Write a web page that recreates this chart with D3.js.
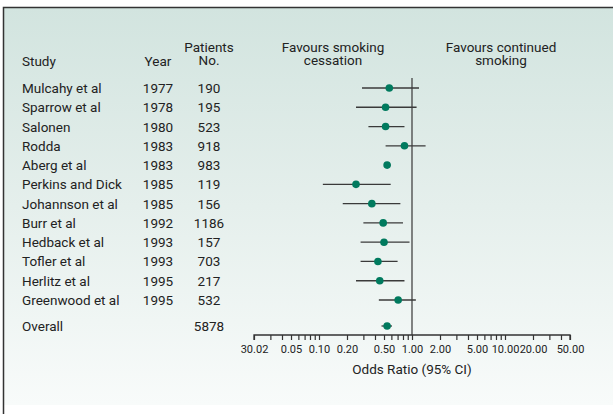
<!DOCTYPE html>
<html>
<head>
<meta charset="utf-8">
<script src="https://cdn.jsdelivr.net/npm/d3@7"></script>
<style>
  body { margin: 0; background: #fff; }
  svg { display: block; font-family: Roboto, "Noto Sans", sans-serif; fill: #222; }
</style>
</head>
<body>
<div id="chart"></div>
<script>
const studies = ["Mulcahy et al", "Sparrow et al", "Salonen", "Rodda", "Aberg et al",
  "Perkins and Dick", "Johannson et al", "Burr et al", "Hedback et al", "Tofler et al",
  "Herlitz et al", "Greenwood et al"];
const years = [1977, 1978, 1980, 1983, 1983, 1985, 1985, 1992, 1993, 1993, 1995, 1995];
const patients = [190, 195, 523, 918, 983, 119, 156, 1186, 157, 703, 217, 532];
const oddsRatio = [0.57, 0.52, 0.52, 0.83, 0.54, 0.25, 0.37, 0.49, 0.50, 0.43, 0.45, 0.71];
const ciLow  = [0.29, 0.25, 0.34, 0.52, 0.50, 0.11, 0.18, 0.30, 0.28, 0.28, 0.25, 0.44];
const ciHigh = [1.19, 1.12, 0.83, 1.40, 0.59, 0.59, 0.75, 0.80, 0.94, 0.70, 0.83, 1.10];
const overall = {label: "Overall", patients: 5878, or: 0.54, lo: 0.47, hi: 0.61};
const tickValues = [0.02, 0.05, 0.1, 0.2, 0.5, 1, 2, 5, 10, 20, 50];
const tickLabels = ["30.02", "0.05", "0.10", "0.20", "0.50", "1.00", "2.00", "5.00", "10.00", "20.00", "50.00"];

const W = 613, H = 414;
const svg = d3.select("#chart").append("svg").attr("width", W).attr("height", H);

// background panel
const grad = svg.append("defs").append("linearGradient")
  .attr("id", "bg").attr("x1", 0).attr("y1", 0).attr("x2", 0).attr("y2", 1);
grad.append("stop").attr("offset", "0%").attr("stop-color", "#d2e4df");
grad.append("stop").attr("offset", "50%").attr("stop-color", "#e5efec");
grad.append("stop").attr("offset", "100%").attr("stop-color", "#f8fbfa");
svg.append("rect").attr("x", 4).attr("y", 8).attr("width", W - 4).attr("height", 397)
  .attr("fill", "url(#bg)");
svg.append("path").attr("d", `M3.5,${H} V7.5 H${W}`)
  .attr("fill", "none").attr("stroke", "#333").attr("stroke-width", 1.5);

const x = d3.scaleLog().domain([0.02, 50]).range([254, 570]);
const rows = studies.map((s, i) => ({study: s, year: years[i], n: patients[i],
  or: oddsRatio[i], lo: ciLow[i], hi: ciHigh[i]}));
const y = d3.scaleLinear().domain([0, studies.length - 1]).range([88, 300]);
const yOverall = 326, axisY = 335;

// headers
const hdr = svg.append("g").attr("font-size", 13.5);
hdr.append("text").attr("x", 22).attr("y", 66).text("Study");
hdr.append("text").attr("x", 158).attr("y", 66).attr("text-anchor", "middle").text("Year");
hdr.append("text").attr("x", 209).attr("y", 52).attr("text-anchor", "middle").text("Patients");
hdr.append("text").attr("x", 209).attr("y", 65).attr("text-anchor", "middle").text("No.");
hdr.append("text").attr("x", 333).attr("y", 52).attr("text-anchor", "middle").text("Favours smoking");
hdr.append("text").attr("x", 333).attr("y", 65).attr("text-anchor", "middle").text("cessation");
hdr.append("text").attr("x", 501).attr("y", 52).attr("text-anchor", "middle").text("Favours continued");
hdr.append("text").attr("x", 501).attr("y", 65).attr("text-anchor", "middle").text("smoking");

// table text
const tbl = svg.append("g").attr("font-size", 13.5);
const tr = tbl.selectAll("g.row").data(rows).join("g").attr("class", "row")
  .attr("transform", (d, i) => `translate(0,${y(i) + 5})`);
tr.append("text").attr("x", 22).text(d => d.study);
tr.append("text").attr("x", 158).attr("text-anchor", "middle").text(d => d.year);
tr.append("text").attr("x", 209).attr("text-anchor", "middle").text(d => d.n);
tbl.append("text").attr("x", 22).attr("y", yOverall + 5).text(overall.label);
tbl.append("text").attr("x", 209).attr("y", yOverall + 5).attr("text-anchor", "middle").text(overall.patients);

// line of no effect
svg.append("line").attr("x1", x(1)).attr("x2", x(1)).attr("y1", 78).attr("y2", axisY)
  .attr("stroke", "#444").attr("stroke-width", 1.3);

// CIs and points
const marks = svg.append("g");
const all = rows.map((d, i) => ({...d, cy: y(i)}))
  .concat([{or: overall.or, lo: overall.lo, hi: overall.hi, cy: yOverall}]);
marks.selectAll("line.ci").data(all).join("line").attr("class", "ci")
  .attr("x1", d => x(d.lo)).attr("x2", d => x(d.hi))
  .attr("y1", d => d.cy).attr("y2", d => d.cy)
  .attr("stroke", "#3a3a3a").attr("stroke-width", 1.3);
marks.selectAll("circle").data(all).join("circle")
  .attr("cx", d => x(d.or)).attr("cy", d => d.cy).attr("r", 3.8)
  .attr("fill", "#007a5e");

// axis
const axis = d3.axisBottom(x)
  .tickValues(x.ticks())
  .tickSize(5)
  .tickFormat(d => {
    const k = tickValues.findIndex(v => Math.abs(v - d) < 1e-9);
    return k >= 0 ? tickLabels[k] : "";
  });
const ag = svg.append("g").attr("transform", `translate(0,${axisY})`).call(axis);
ag.select(".domain").attr("stroke", "#333").attr("stroke-width", 1.3)
  .attr("d", `M${x(0.02)},5V0H${x(50)}V5`);
ag.selectAll(".tick line").attr("stroke", "#333").attr("stroke-width", 1.2);
ag.selectAll(".tick text").attr("font-family", "Roboto, sans-serif")
  .attr("font-size", 11).attr("fill", "#222").attr("dy", "0.95em");

svg.append("text").attr("x", x(1)).attr("y", 374).attr("text-anchor", "middle")
  .attr("font-size", 13.5).text("Odds Ratio (95% CI)");
</script>
</body>
</html>
